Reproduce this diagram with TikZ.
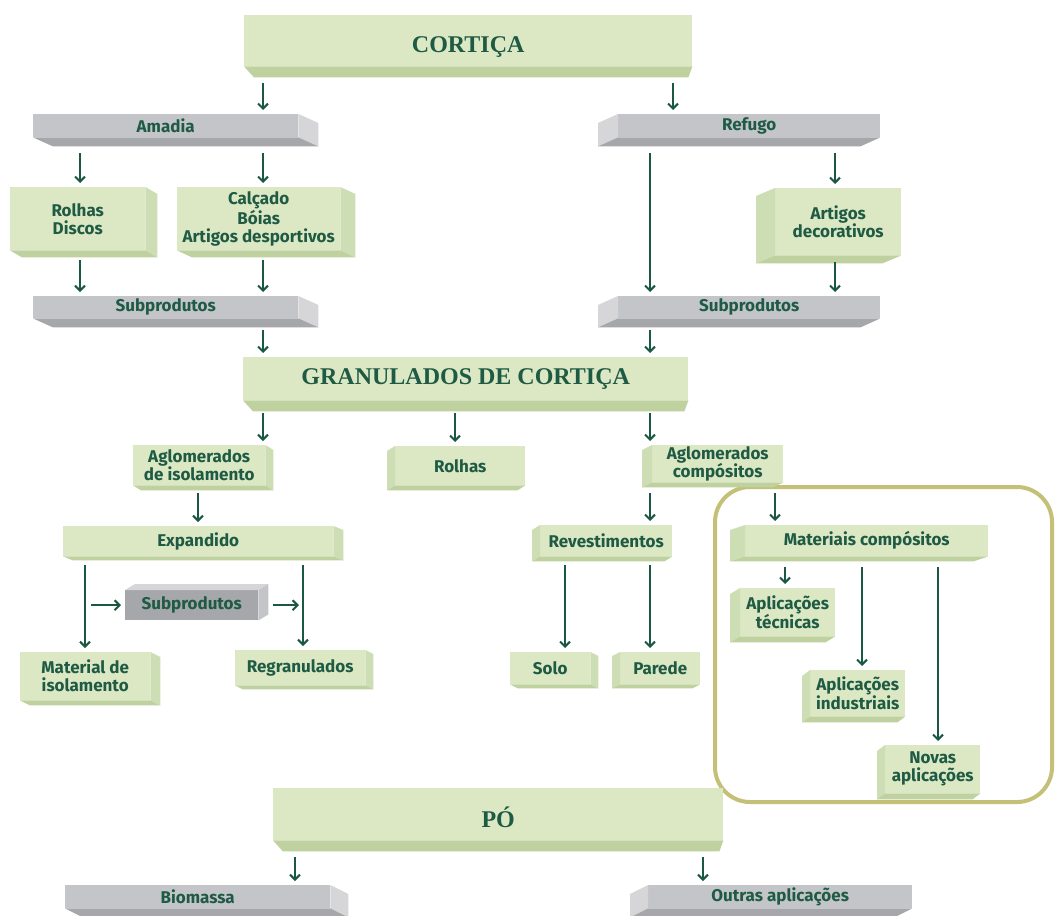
\documentclass[tikz,border=0pt]{standalone}
\usepackage{fontspec}
\setmainfont{Fira Sans}
\newfontfamily\fonteTitulo{Liberation Serif}
\usetikzlibrary{arrows.meta}

\definecolor{verdeFace}{RGB}{219, 232, 195}
\definecolor{verdeLado}{RGB}{206, 222, 180}
\definecolor{verdeBase}{RGB}{190, 209, 158}
\definecolor{cinzaFace}{RGB}{196, 197, 201}
\definecolor{cinzaLado}{RGB}{214, 214, 217}
\definecolor{cinzaBase}{RGB}{166, 167, 171}
\definecolor{corTexto}{RGB}{ 30,  90,  68}
\definecolor{corSeta}{RGB}{ 26,  88,  66}
\definecolor{corMoldura}{RGB}{197, 192, 120}

\tikzset{
  caixa/.style={anchor=north west, inner sep=0pt, align=center, text=corTexto,
                font=\fontsize{17}{18}\selectfont\bfseries},
  verde/.style={caixa, fill=verdeFace},
  cinza/.style={caixa, fill=cinzaFace},
  titulo/.style={caixa, fill=verdeFace,
                 font=\fonteTitulo\fontsize{24}{28}\selectfont\bfseries},
  seta/.style={draw=corSeta, line width=2pt,
               -{Straight Barb[length=5pt,width=10pt]}, shorten >=4pt},
}

% relevo: lado direito + base (#2,#3 = profundidade, #4 lado, #5 base)
\newcommand{\ladoD}[5]{%
  \fill[#4] (#1.north east) -- ++(#2,#3) -- ([shift={(#2,#3)}]#1.south east)
            -- (#1.south east) -- cycle;
  \fill[#5] (#1.south west) -- (#1.south east) -- ([shift={(#2,#3)}]#1.south east)
            -- ([shift={(#2,#3)}]#1.south west) -- cycle;
}
% relevo: lado esquerdo + base
\newcommand{\ladoE}[5]{%
  \fill[#4] (#1.north west) -- ++(-#2,#3) -- ([shift={(-#2,#3)}]#1.south west)
            -- (#1.south west) -- cycle;
  \fill[#5] (#1.south west) -- (#1.south east) -- ([shift={(-#2,#3)}]#1.south east)
            -- ([shift={(-#2,#3)}]#1.south west) -- cycle;
}
% base das caixas de titulo
\newcommand{\baseT}[1]{%
  \fill[verdeBase] (#1.south west) -- (#1.south east) -- ++(-4,11)
                   -- ([shift={(10,11)}]#1.south west) -- cycle;
}

\begin{document}
\begin{tikzpicture}[x=1pt, y=-1pt]

  \path[use as bounding box, fill=white] (0,0) rectangle (1059,915);

  % moldura dos materiais compositos
  \draw[corMoldura, line width=4pt, rounded corners=35pt] (715,487) rectangle (1052,802);

  %% ================================================================
  %%  CORTICA -> AMADIA / REFUGO
  %% ================================================================
  \node[titulo, minimum width=448, minimum height=51] (cortica) at (244,15)
       {\raisebox{-12pt}[0pt][0pt]{CORTIÇA}};
  \baseT{cortica}

  \node[cinza, minimum width=265, minimum height=23] (amadia) at (33,114) {Amadia};
  \ladoD{amadia}{20}{9}{cinzaLado}{cinzaBase}
  \node[cinza, minimum width=262, minimum height=23] (refugo) at (618,114) {Refugo};
  \ladoE{refugo}{20}{9}{cinzaLado}{cinzaBase}

  \node[verde, minimum width=135, minimum height=63] (rolhasD) at (10,187) {Rolhas\\Discos};
  \ladoD{rolhasD}{12}{7}{verdeLado}{verdeBase}
  \node[verde, minimum width=163, minimum height=63] (calcado) at (177,187)
       {Calçado\\Bóias\\Artigos desportivos};
  \ladoD{calcado}{15}{7}{verdeLado}{verdeBase}
  \node[verde, minimum width=126, minimum height=67] (artigos) at (775,188) {Artigos\\decorativos};
  \ladoE{artigos}{19}{8}{verdeLado}{verdeBase}

  \node[cinza, minimum width=265, minimum height=22] (subL) at (33,296) {Subprodutos};
  \ladoD{subL}{20}{9}{cinzaLado}{cinzaBase}
  \node[cinza, minimum width=262, minimum height=22] (subR) at (618,296) {Subprodutos};
  \ladoE{subR}{20}{9}{cinzaLado}{cinzaBase}

  %% ================================================================
  %%  GRANULADOS DE CORTICA
  %% ================================================================
  \node[titulo, minimum width=445, minimum height=43] (granulados) at (243,357)
       {GRANULADOS DE CORTIÇA};
  \baseT{granulados}

  \node[verde, minimum width=132, minimum height=40] (aglIso) at (133,445)
       {Aglomerados\\de isolamento};
  \ladoD{aglIso}{8}{5}{verdeLado}{verdeBase}
  \node[verde, minimum width=130, minimum height=39] (rolhas) at (395,446) {Rolhas};
  \ladoE{rolhas}{8}{5}{verdeLado}{verdeBase}
  \node[verde, minimum width=131, minimum height=37] (aglComp) at (652,445)
       {Aglomerados\\compósitos};
  \ladoE{aglComp}{10}{5}{verdeLado}{verdeBase}

  % ramo isolamento
  \node[verde, minimum width=270, minimum height=30] (expandido) at (63,526) {Expandido};
  \ladoD{expandido}{10}{4}{verdeLado}{verdeBase}
  \node[caixa, fill=cinzaBase, minimum width=133, minimum height=30] (subS) at (125,590)
       {Subprodutos};
  \fill[cinzaLado] (subS.north west) -- ++(10,-6) -- ([shift={(10,-6)}]subS.north east)
                   -- (subS.north east) -- cycle;
  \fill[cinzaFace] (subS.north east) -- ++(10,-6) -- ([shift={(10,-6)}]subS.south east)
                   -- (subS.south east) -- cycle;
  \node[verde, minimum width=130, minimum height=48] (matIso) at (20,652)
       {Material de\\isolamento};
  \ladoD{matIso}{10}{5}{verdeLado}{verdeBase}
  \node[verde, minimum width=130, minimum height=35] (regran) at (235,650) {Regranulados};
  \ladoD{regran}{8}{4}{verdeLado}{verdeBase}

  % ramo compositos
  \node[verde, minimum width=132, minimum height=31] (revest) at (540,525) {Revestimentos};
  \ladoE{revest}{8}{5}{verdeLado}{verdeBase}
  \node[verde, minimum width=80, minimum height=32] (solo) at (510,652) {Solo};
  \ladoD{solo}{8}{4}{verdeLado}{verdeBase}
  \node[verde, minimum width=80, minimum height=32] (parede) at (620,652) {Parede};
  \ladoE{parede}{8}{4}{verdeLado}{verdeBase}

  \node[verde, minimum width=243, minimum height=31] (materiais) at (745,525)
       {Materiais compósitos};
  \ladoE{materiais}{15}{5}{verdeLado}{verdeBase}
  \node[verde, minimum width=95, minimum height=48] (aplTec) at (740,588)
       {Aplicações\\técnicas};
  \ladoE{aplTec}{10}{6}{verdeLado}{verdeBase}
  \node[verde, minimum width=95, minimum height=46] (aplInd) at (810,670)
       {Aplicações\\industriais};
  \ladoE{aplInd}{8}{6}{verdeLado}{verdeBase}
  \node[verde, minimum width=95, minimum height=48] (novas) at (885,745)
       {Novas\\aplicações};
  \ladoE{novas}{8}{6}{verdeLado}{verdeBase}

  %% ================================================================
  %%  PO
  %% ================================================================
  \node[titulo, minimum width=450, minimum height=52] (po) at (273,788)
       {\raisebox{-13pt}[0pt][0pt]{PÓ}};
  \baseT{po}
  \node[cinza, minimum width=265, minimum height=23] (biomassa) at (65,885) {Biomassa};
  \ladoD{biomassa}{18}{9}{cinzaLado}{cinzaBase}
  \node[cinza, minimum width=264, minimum height=23] (outras) at (648,885) {Outras aplicações};
  \ladoE{outras}{18}{9}{cinzaLado}{cinzaBase}

  %% ================================================================
  %%  SETAS
  %% ================================================================
  \draw[seta, shorten <=17pt] (263,0 |- cortica.south) -- (263,0 |- amadia.north);
  \draw[seta, shorten <=17pt] (673,0 |- cortica.south) -- (673,0 |- refugo.north);

  \draw[seta, shorten <=16pt] (80,0 |- amadia.south) -- (80,0 |- rolhasD.north);
  \draw[seta, shorten <=16pt] (263,0 |- amadia.south) -- (263,0 |- calcado.north);
  \draw[seta, shorten <=10pt] (80,0 |- rolhasD.south) -- (80,0 |- subL.north);
  \draw[seta, shorten <=10pt] (263,0 |- calcado.south) -- (263,0 |- subL.north);

  \draw[seta, shorten <=16pt] (650,0 |- refugo.south) -- (650,0 |- subR.north);
  \draw[seta, shorten <=16pt] (835,0 |- refugo.south) -- (835,0 |- artigos.north);
  \draw[seta, shorten <=7pt]  (835,0 |- artigos.south) -- (835,0 |- subR.north);

  \draw[seta, shorten <=12pt] (263,0 |- subL.south) -- (263,0 |- granulados.north);
  \draw[seta, shorten <=12pt] (650,0 |- subR.south) -- (650,0 |- granulados.north);

  \draw[seta, shorten <=13pt] (263,0 |- granulados.south) -- (263,0 |- aglIso.north);
  \draw[seta, shorten <=13pt] (455,0 |- granulados.south) -- (455,0 |- rolhas.north);
  \draw[seta, shorten <=13pt] (650,0 |- granulados.south) -- (650,0 |- aglComp.north);

  \draw[seta, shorten <=8pt]  (198,0 |- aglIso.south) -- (198,0 |- expandido.north);
  \draw[seta, shorten <=9pt]  (85,0 |- expandido.south) -- (85,0 |- matIso.north);
  \draw[seta, shorten <=9pt]  (303,0 |- expandido.south) -- (303,0 |- regran.north);
  \draw[seta, shorten <=6pt]  (85,0 |- subS.west) -- (subS.west);
  \draw[seta, shorten <=15pt] (subS.east) -- (303,0 |- subS.east);

  \draw[seta, shorten <=11pt] (650,0 |- aglComp.south) -- (650,0 |- revest.north);
  \draw[seta, shorten <=11pt] (775,0 |- aglComp.south) -- (775,0 |- materiais.north);
  \draw[seta, shorten <=9pt]  (565,0 |- revest.south) -- (565,0 |- solo.north);
  \draw[seta, shorten <=9pt]  (650,0 |- revest.south) -- (650,0 |- parede.north);

  \draw[seta, shorten <=11pt] (785,0 |- materiais.south) -- (785,0 |- aplTec.north);
  \draw[seta, shorten <=11pt] (862,0 |- materiais.south) -- (862,0 |- aplInd.north);
  \draw[seta, shorten <=11pt] (938,0 |- materiais.south) -- (938,0 |- novas.north);

  \draw[seta, shorten <=17pt] (295,0 |- po.south) -- (295,0 |- biomassa.north);
  \draw[seta, shorten <=17pt] (703,0 |- po.south) -- (703,0 |- outras.north);

\end{tikzpicture}
\end{document}
